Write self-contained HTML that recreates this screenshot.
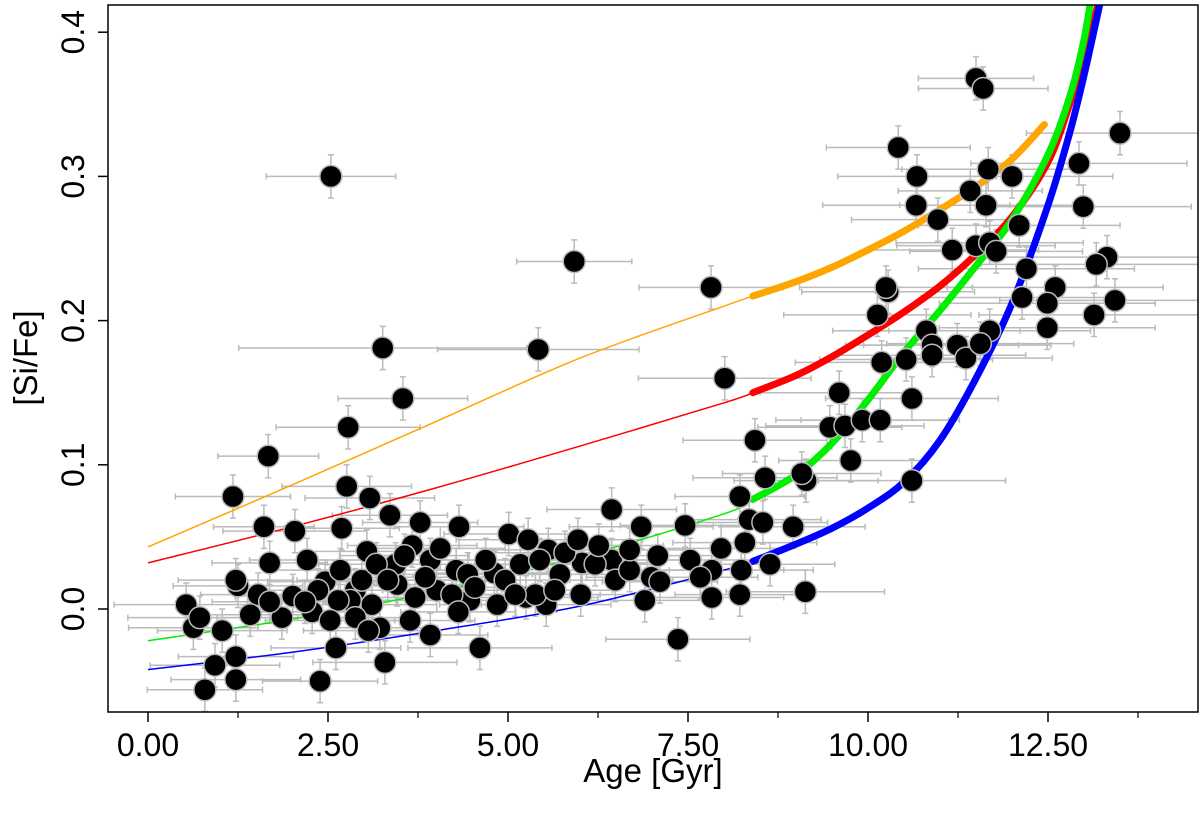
<!DOCTYPE html>
<html><head><meta charset="utf-8"><style>
body{margin:0;background:#fff}
svg{display:block;font-family:"Liberation Sans",Arial,sans-serif}
</style></head><body>
<svg id="chart" width="1200" height="818">
<defs><clipPath id="clip"><rect x="108" y="5" width="1090" height="707"/></clipPath></defs>
<g id="errs" clip-path="url(#clip)"></g>
<g id="curves" clip-path="url(#clip)"></g>
<g id="pts" clip-path="url(#clip)"></g>
<rect x="108" y="5" width="1090" height="707" fill="none" stroke="#000" stroke-width="1.5"/>
<g id="axes"></g>
<text x="653" y="782" font-size="33" text-anchor="middle">Age [Gyr]</text>
<text transform="translate(37,358) rotate(-90)" font-size="33" text-anchor="middle">[Si/Fe]</text>
</svg>
<script>
const xTickVals=[0,2.5,5,7.5,10,12.5];
const xTickLabels=["0.00","2.50","5.00","7.50","10.00","12.50"];
const xMinorVals=[1.25,3.75,6.25,8.75,11.25,13.75];
const yTickVals=[0,0.1,0.2,0.3,0.4];
const yTickLabels=["0.0","0.1","0.2","0.3","0.4"];
const yErr=0.015;
const points=[[2.54,0.300,0.9],[5.92,0.241,0.8],[7.82,0.223,1.0],[5.42,0.180,1.4],[3.26,0.181,2.0],[3.54,0.146,0.9],[2.78,0.126,1.0],[1.67,0.106,0.7],[8.01,0.160,1.2],[1.18,0.078,0.8],[2.04,0.054,1.0],
[11.5,0.368,0.8],[11.6,0.361,0.9],[10.42,0.320,1.0],[10.68,0.300,1.1],[11.67,0.305,1.2],[13.5,0.330,1.3],[12.93,0.309,1.5],[10.67,0.280,1.3],[10.97,0.270,1.2],[11.42,0.290,1.0],[11.64,0.280,1.2],[12.0,0.300,1.4],[12.99,0.279,1.5],[11.17,0.249,1.2],[11.5,0.252,1.1],[11.69,0.254,1.3],[11.78,0.248,1.2],[12.1,0.266,1.4],[12.2,0.236,1.5],[12.14,0.216,1.4],[12.6,0.223,1.5],[12.49,0.212,1.5],[13.32,0.244,1.6],[13.17,0.239,1.6],[13.14,0.204,1.6],[13.43,0.214,1.6],[12.49,0.195,1.5],[10.28,0.220,1.2],[10.25,0.223,1.2],[10.13,0.204,1.3],[10.19,0.171,1.2],[10.81,0.193,1.3],[10.89,0.183,1.2],[11.24,0.183,1.3],[11.36,0.174,1.2],[11.69,0.193,1.4],[11.56,0.184,1.3],[10.53,0.173,1.2],[10.89,0.176,1.3],[10.61,0.146,1.2],[9.6,0.150,1.1],[9.47,0.126,1.0],[9.68,0.127,1.1],[9.92,0.131,1.2],[10.17,0.131,1.1],[9.76,0.103,1.0],[9.14,0.089,1.0],[9.08,0.094,1.1],[10.61,0.089,1.3],[8.43,0.117,1.0],[8.57,0.091,1.0],[8.22,0.078,0.9],[8.96,0.057,1.0],[8.35,0.062,1.0],[8.54,0.060,0.9],[8.29,0.046,1.0],[8.64,0.031,0.9],[8.24,0.027,1.0],[8.22,0.010,0.9],[9.13,0.012,1.1],[7.83,0.008,1.0],[7.96,0.042,0.9],[7.83,0.027,1.0],[7.46,0.058,0.9],[7.36,-0.021,1.0],[6.99,0.022,0.9],[6.85,0.057,1.0],[7.08,0.037,0.9],[6.44,0.069,0.9],[6.44,0.034,1.0],[6.03,0.032,0.9],[6.01,0.010,1.0],[5.53,0.003,0.9],[5.25,0.008,1.0],[5.01,0.052,0.9],[5.28,0.048,1.0],[5.56,0.041,0.9],[5.79,0.039,1.0],[5.97,0.048,0.9],[4.61,-0.027,1.0],[4.32,0.057,0.9],[3.78,0.060,0.8],[3.67,0.044,0.9],[4.28,0.027,1.0],[4.81,0.025,0.9],[4.47,0.006,1.0],[4.01,0.013,0.9],[3.92,-0.018,0.8],[3.46,0.017,0.9],[3.29,-0.037,1.0],[3.04,0.040,0.8],[3.08,0.077,0.9],[3.36,0.065,0.8],[2.76,0.085,0.9],[2.69,0.056,0.8],[1.61,0.057,0.7],[1.69,0.032,0.8],[1.25,0.016,0.9],[1.22,0.020,0.8],[1.22,-0.049,0.9],[2.39,-0.050,0.8],[2.61,-0.027,0.9],[0.79,-0.056,0.8],[0.93,-0.039,0.9],[1.22,-0.033,0.8],[0.53,0.003,1.0],[0.63,-0.013,0.9],[0.72,-0.006,1.0],[1.03,-0.015,0.9],[1.53,0.010,0.8],[1.86,-0.006,0.9],[2.01,0.009,0.8],[2.28,-0.002,0.9],[2.46,0.019,0.8],[2.67,0.027,0.9],[2.88,0.013,0.8],[3.11,0.003,0.9],[3.22,-0.013,0.8],[3.64,-0.008,0.9],[3.44,0.031,0.8],[3.56,0.037,0.9],[3.92,0.034,0.8],[4.06,0.042,0.9],[4.22,0.010,0.8],[4.44,0.024,0.9],[4.69,0.034,0.8],[4.96,0.020,0.9],[5.17,0.031,0.8],[5.38,0.010,0.9],[5.72,0.024,0.8],[6.21,0.031,0.9],[6.49,0.020,0.8],[6.69,0.027,0.9],[7.11,0.019,0.8],[7.53,0.034,0.9],[7.67,0.022,0.8],[2.21,0.034,0.8],[2.36,0.013,0.9],[2.81,0.006,0.8],[2.97,0.020,0.9],[3.17,0.031,0.8],[3.33,0.020,0.9],[3.71,0.008,0.8],[3.85,0.022,0.9],[4.31,-0.002,0.8],[4.54,0.015,0.9],[2.88,-0.006,0.8],[3.06,-0.015,0.9],[2.64,0.006,0.8],[2.53,-0.008,0.9],[2.18,0.005,0.8],[1.42,-0.004,0.9],[1.69,0.005,0.8],[5.44,0.034,0.9],[5.65,0.013,0.8],[6.26,0.044,0.9],[6.69,0.041,0.8],[6.9,0.006,0.9],[4.85,0.003,0.8],[5.1,0.010,0.9]];
const orangeAges=[0,2,4,6,8,8.4,9,9.5,10,10.5,11,11.5,12,12.45];
const orangeVals=[0.043,0.086,0.130,0.174,0.210,0.217,0.227,0.237,0.249,0.262,0.277,0.293,0.312,0.336];
const redAges=[0,2,4,6,8,8.4,9,9.5,10,10.5,11,11.5,12,12.5,12.8,13.0,13.2,13.35];
const redVals=[0.032,0.057,0.084,0.113,0.143,0.150,0.162,0.175,0.190,0.206,0.224,0.246,0.272,0.310,0.350,0.385,0.420,0.450];
const greenAges=[0,2,4,6,8,8.4,9,9.5,10,10.5,11,11.5,12,12.5,12.8,13.0,13.15];
const greenVals=[-0.022,-0.007,0.012,0.036,0.066,0.076,0.093,0.115,0.145,0.178,0.207,0.238,0.270,0.315,0.355,0.395,0.440];
const blueAges=[0,2,4,6,8,8.4,9,9.5,10,10.5,11,11.5,12,12.5,12.8,13.0,13.2,13.35];
const blueVals=[-0.042,-0.030,-0.015,0.002,0.027,0.033,0.045,0.056,0.070,0.088,0.117,0.160,0.212,0.280,0.330,0.370,0.415,0.450];
const splitAge=8.4;

const NS='http://www.w3.org/2000/svg';
const X=a=>148+a*72;
const Y=v=>609-v*1442;
function mk(tag,attrs,parent){const e=document.createElementNS(NS,tag);for(const k in attrs)e.setAttribute(k,attrs[k]);parent.appendChild(e);return e;}
const axes=document.getElementById('axes');
xTickVals.forEach((v,i)=>{
  const t=mk('line',{x1:X(v),x2:X(v),y1:712,y2:722,stroke:'#000','stroke-width':1.5},axes);
  
  
  const l=mk('text',{x:X(v),y:756,'font-size':32,'text-anchor':'middle'},axes);
  l.textContent=xTickLabels[i];
  
  
});
xMinorVals.forEach(v=>{
  const t=mk('line',{x1:X(v),x2:X(v),y1:712,y2:718,stroke:'#000','stroke-width':1.2},axes);
  
  
});
yTickVals.forEach((v,i)=>{
  const t=mk('line',{x1:98,x2:108,y1:Y(v),y2:Y(v),stroke:'#000','stroke-width':1.5},axes);
  
  
  const l=mk('text',{transform:`translate(84,${Y(v)}) rotate(-90)`,'font-size':32,'text-anchor':'middle'},axes);
  l.textContent=yTickLabels[i];
  
  
});
const errs=document.getElementById('errs');
points.forEach(p=>{
  const [a,v,xe]=p;
  const g=mk('g',{stroke:'#bbb','stroke-width':1.5},errs);
  
  
  mk('line',{x1:X(a-xe),x2:X(a+xe),y1:Y(v),y2:Y(v)},g);
  mk('line',{x1:X(a),x2:X(a),y1:Y(v-yErr),y2:Y(v+yErr)},g);
  mk('line',{x1:X(a-xe),x2:X(a-xe),y1:Y(v)-3,y2:Y(v)+3},g);
  mk('line',{x1:X(a+xe),x2:X(a+xe),y1:Y(v)-3,y2:Y(v)+3},g);
  mk('line',{x1:X(a)-3,x2:X(a)+3,y1:Y(v-yErr),y2:Y(v-yErr)},g);
  mk('line',{x1:X(a)-3,x2:X(a)+3,y1:Y(v+yErr),y2:Y(v+yErr)},g);
});
const curves=document.getElementById('curves');
function smooth(pts){
  let d='M'+pts[0][0]+','+pts[0][1];
  for(let i=0;i<pts.length-1;i++){
    const p0=pts[Math.max(0,i-1)],p1=pts[i],p2=pts[i+1],p3=pts[Math.min(pts.length-1,i+2)];
    const c1x=p1[0]+(p2[0]-p0[0])/6,c1y=p1[1]+(p2[1]-p0[1])/6;
    const c2x=p2[0]-(p3[0]-p1[0])/6,c2y=p2[1]-(p3[1]-p1[1])/6;
    d+=` C${c1x},${c1y} ${c2x},${c2y} ${p2[0]},${p2[1]}`;
  }
  return d;
}
function drawCurve(ages,vals,color,name){
  const thin=[],thick=[];
  ages.forEach((a,i)=>{const pt=[X(a),Y(vals[i])];if(a<=splitAge)thin.push(pt);if(a>=splitAge)thick.push(pt);});
  const l1=mk('path',{d:smooth(thin),fill:'none',stroke:color,'stroke-width':1.5},curves);
  
  
  const l2=mk('path',{d:smooth(thick),fill:'none',stroke:color,'stroke-width':7,'stroke-linejoin':'round','stroke-linecap':'round'},curves);
  
  
}
drawCurve(orangeAges,orangeVals,'#ffa500','orange-model');
drawCurve(redAges,redVals,'#ff0000','red-model');
drawCurve(blueAges,blueVals,'#0000ff','blue-model');
drawCurve(greenAges,greenVals,'#00ee00','green-model');
const pts=document.getElementById('pts');
points.forEach(p=>{
  const c=mk('circle',{cx:X(p[0]),cy:Y(p[1]),r:11,fill:'#000',stroke:'#bbb','stroke-width':1.5},pts);
  
  
});
</script>
</body></html>
